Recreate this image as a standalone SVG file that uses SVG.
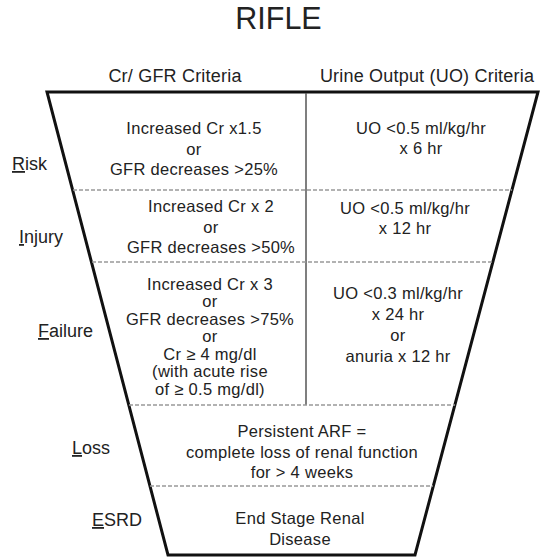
<svg xmlns="http://www.w3.org/2000/svg" width="540" height="559" viewBox="0 0 540 559">
  <style>
    text { font-family: "Liberation Sans", Arial, sans-serif; fill: #222; }
    .title { font-size: 30.5px; text-anchor: middle; }
    .head { font-size: 18px; text-anchor: middle; letter-spacing: 0.2px; }
    .label { font-size: 18px; }
    .body { font-size: 16.5px; text-anchor: middle; letter-spacing: 0.3px; }
    .ul { text-decoration: underline; }
    .frame { fill: #fff; stroke: #111; stroke-width: 3; stroke-linejoin: miter; }
    .dash { stroke: #999; stroke-width: 1.5; stroke-dasharray: 4 2; fill: none; }
    .vdiv { stroke: #555; stroke-width: 1.5; fill: none; }
  </style>
  <rect x="0" y="0" width="540" height="559" fill="#fff"/>
  <text class="title" x="278.5" y="29">RIFLE</text>
  <g id="headers">
    <text class="head" x="175" y="82">Cr/ GFR Criteria</text>
    <text class="head" x="427" y="82">Urine Output (UO) Criteria</text>
  </g>
  <g id="connectors">
    <polygon class="frame" points="47,92 538,92 415,555 168,555"/>
    <line class="vdiv" x1="306" y1="93" x2="306" y2="405"/>
    <line class="dash" x1="73" y1="190" x2="512" y2="190"/>
    <line class="dash" x1="92" y1="262" x2="493" y2="262"/>
    <line class="dash" x1="129" y1="405" x2="455" y2="405"/>
    <line class="dash" x1="150" y1="486" x2="433" y2="486"/>
  </g>
  <g id="risk">
    <text class="label" x="12" y="170"><tspan class="ul">R</tspan>isk</text>
    <text class="body" x="194" y="134">Increased Cr x1.5</text>
    <text class="body" x="194" y="154.5">or</text>
    <text class="body" x="194" y="175">GFR decreases &gt;25%</text>
    <text class="body" x="421" y="134">UO &lt;0.5 ml/kg/hr</text>
    <text class="body" x="421" y="154">x 6 hr</text>
  </g>
  <g id="injury">
    <text class="label" x="19" y="243"><tspan class="ul">I</tspan>njury</text>
    <text class="body" x="211" y="212">Increased Cr x 2</text>
    <text class="body" x="211" y="232.5">or</text>
    <text class="body" x="211" y="253">GFR decreases &gt;50%</text>
    <text class="body" x="405" y="214">UO &lt;0.5 ml/kg/hr</text>
    <text class="body" x="405" y="234">x 12 hr</text>
  </g>
  <g id="failure">
    <text class="label" x="38" y="337"><tspan class="ul">F</tspan>ailure</text>
    <text class="body" x="210" y="289.5">Increased Cr x 3</text>
    <text class="body" x="210" y="307">or</text>
    <text class="body" x="210" y="324.5">GFR decreases &gt;75%</text>
    <text class="body" x="210" y="342">or</text>
    <text class="body" x="210" y="359.5">Cr ≥ 4 mg/dl</text>
    <text class="body" x="210" y="377">(with acute rise</text>
    <text class="body" x="210" y="394.5">of ≥ 0.5 mg/dl)</text>
    <text class="body" x="398" y="299">UO &lt;0.3 ml/kg/hr</text>
    <text class="body" x="398" y="320">x 24 hr</text>
    <text class="body" x="398" y="341">or</text>
    <text class="body" x="398" y="362">anuria x 12 hr</text>
  </g>
  <g id="loss">
    <text class="label" x="72" y="454"><tspan class="ul">L</tspan>oss</text>
    <text class="body" x="302" y="437">Persistent ARF =</text>
    <text class="body" x="302" y="458">complete loss of renal function</text>
    <text class="body" x="302" y="478">for &gt; 4 weeks</text>
  </g>
  <g id="esrd">
    <text class="label" x="92" y="526"><tspan class="ul">E</tspan>SRD</text>
    <text class="body" x="300" y="524">End Stage Renal</text>
    <text class="body" x="300" y="545">Disease</text>
  </g>
</svg>
